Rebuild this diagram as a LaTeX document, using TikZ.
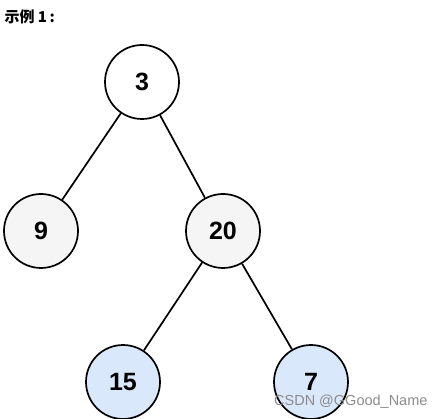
\documentclass[tikz,border=0pt]{standalone}
\usepackage{fontspec}
\setmainfont{Liberation Sans}
\newfontfamily\cjk{Noto Sans CJK SC}
\definecolor{grayfill}{HTML}{F5F5F5}
\definecolor{bluefill}{HTML}{DAE8FC}
\tikzset{
    treenode/.style={circle, draw=black, line width=1.7pt, minimum size=74pt,
        inner sep=0pt, font=\fontsize{25}{30}\selectfont\bfseries},
    treeedge/.style={line width=1.7pt, black},
}
\begin{document}
\begin{tikzpicture}[x=1pt, y=-1pt]
    \useasboundingbox (0,0) rectangle (444,419);
    \node[anchor=west, font=\cjk\fontsize{15}{18}\selectfont\bfseries] (title) at (1,17) {示例 1\,:};
    % tree nodes
    \node[treenode, fill=white] (n3) at (142,82) {3};
    \node[treenode, fill=grayfill] (n9) at (41,231) {9};
    \node[treenode, fill=grayfill] (n20) at (223,231) {20};
    \node[treenode, fill=bluefill] (n15) at (123,382) {15};
    \node[treenode, fill=bluefill] (n7) at (311,382) {7};
    % edges
    \draw[treeedge] (n3) -- (n9);
    \draw[treeedge] (n3) -- (n20);
    \draw[treeedge] (n20) -- (n15);
    \draw[treeedge] (n20) -- (n7);
    \node[anchor=east, text=black!45, font=\fontsize{14.5}{17}\selectfont] (mark) at (431,402) {CSDN @GGood\_Name};
\end{tikzpicture}
\end{document}
